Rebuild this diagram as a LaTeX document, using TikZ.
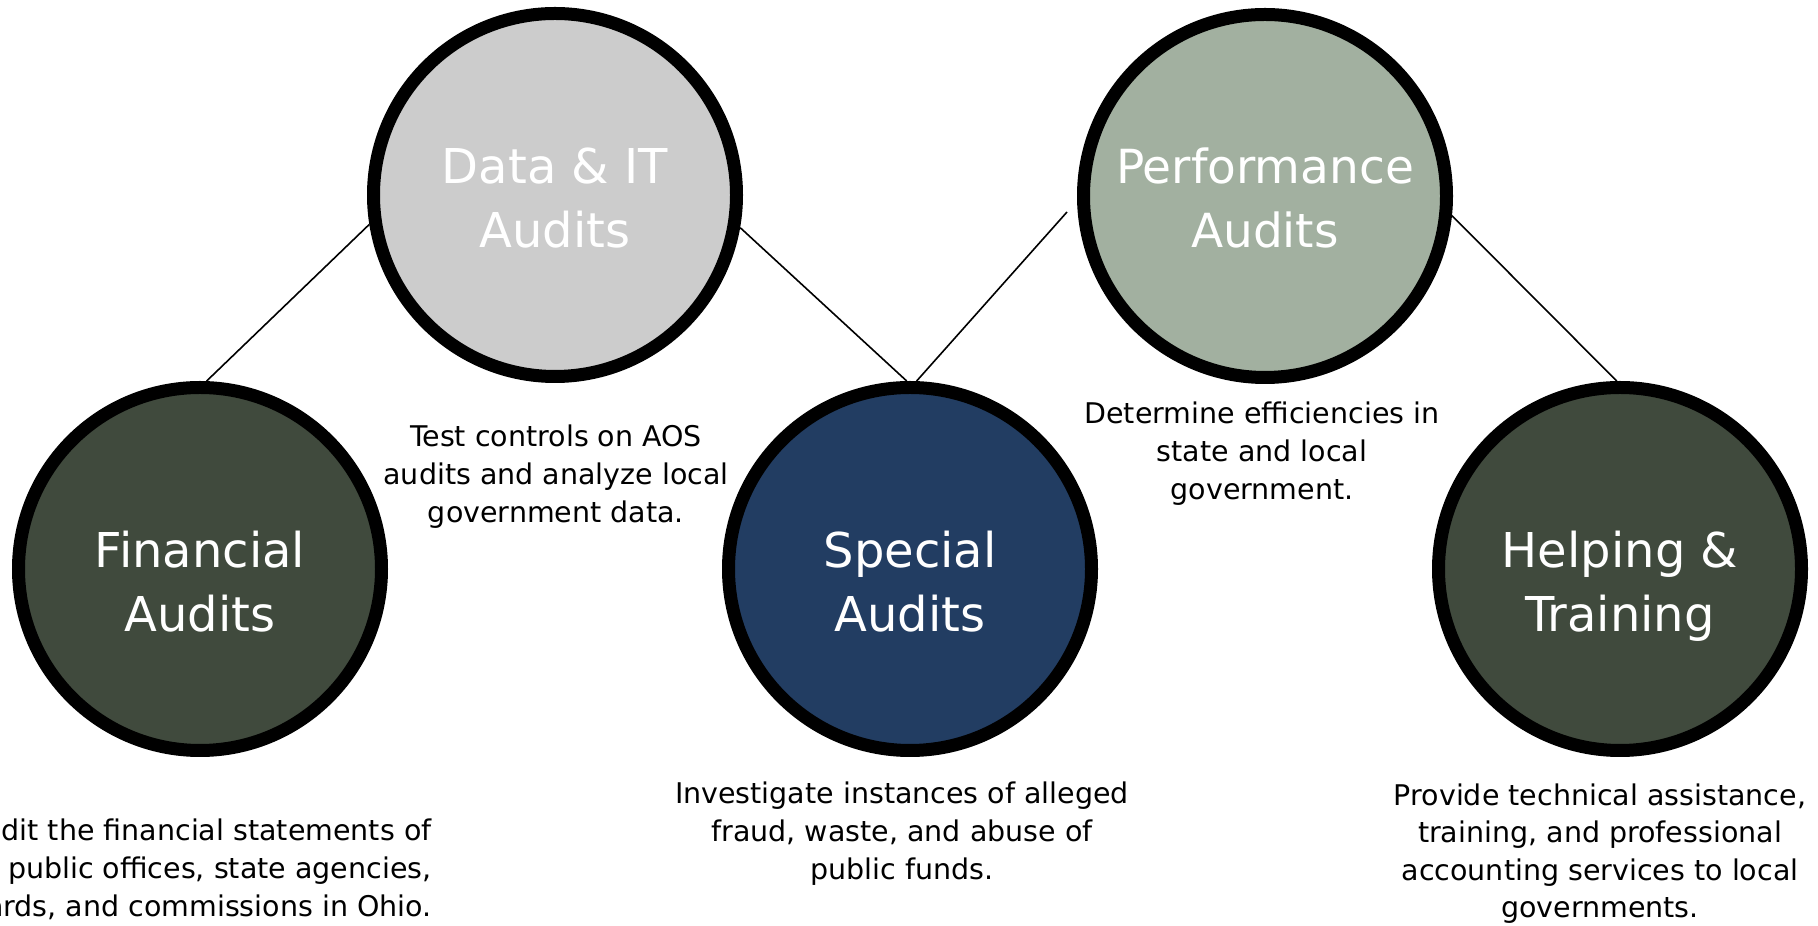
\documentclass[tikz,border=0pt]{standalone}
\usepackage{fontspec}
\setmainfont{DejaVu Sans}
\usepackage{tikz}
\usetikzlibrary{positioning}

\definecolor{oliveaudit}{HTML}{404A3D}
\definecolor{greyaudit}{HTML}{CCCCCC}
\definecolor{navyaudit}{HTML}{223D62}
\definecolor{sageaudit}{HTML}{A2B0A0}

\begin{document}
\begin{tikzpicture}[x=1pt, y=1pt,
    audit/.style={circle, draw=black, line width=13pt, minimum size=363pt, inner sep=0pt},
    audittext/.style={text=white, align=center, anchor=base, font=\fontsize{48}{64}\selectfont},
    desc/.style={align=center, anchor=base, font=\fontsize{28.5}{38}\selectfont},
    link/.style={line width=1.6pt}]

    \useasboundingbox (0,0) rectangle (1818,926);
    \clip (0,0) rectangle (1818,926);
    \fill[white] (0,0) rectangle (1818,926);

    %% audit circles
    \node[audit, fill=oliveaudit] (fin) at (200,357) {};
    \node[audit, fill=greyaudit] (data) at (555,731) {};
    \node[audit, fill=navyaudit] (spec) at (910,357) {};
    \node[audit, fill=sageaudit] (perf) at (1265,730) {};
    \node[audit, fill=oliveaudit] (help) at (1620,357) {};

    %% titles (base = last line)
    \node[audittext] (fintext) at (200,294) {Financial\\Audits};
    \node[audittext] (datatext) at (555,678) {Data \& IT\\Audits};
    \node[audittext] (spectext) at (910,294) {Special\\Audits};
    \node[audittext, font=\fontsize{47}{64}\selectfont] (perftext) at (1265,678) {Performance\\Audits};
    \node[audittext] (helptext) at (1620,294) {Helping \&\\Training};

    %% links
    \coordinate (perfgap) at (1067,714);
    \draw[link] (fin.88.5) -- (data.189.5);
    \draw[link] (data.350.2) -- (spec.91.5);
    \draw[link] (spec.88.5) -- (perfgap);
    \draw[link] (perf.354.2) -- (help.91.5);

    %% descriptions
    \node[desc] (datadesc) at (556,403) {Test controls on AOS\\audits and analyze local\\government data.};
    \node[desc] (perfdesc) at (1262,426) {Determine efficiencies in\\state and local\\government.};
    \node[desc] (specdesc) at (902,46) {Investigate instances of alleged\\fraud, waste, and abuse of\\public funds.};
    \node[desc, font=\fontsize{28.5}{37.5}\selectfont] (helpdesc) at (1600,8) {Provide technical assistance,\\training, and professional\\accounting services to local\\governments.};
    \node[desc, align=right, anchor=base east] (findesc) at (435,9) {Audit the financial statements of\\public offices, state agencies,\\boards, and commissions in Ohio.};

\end{tikzpicture}
\end{document}
